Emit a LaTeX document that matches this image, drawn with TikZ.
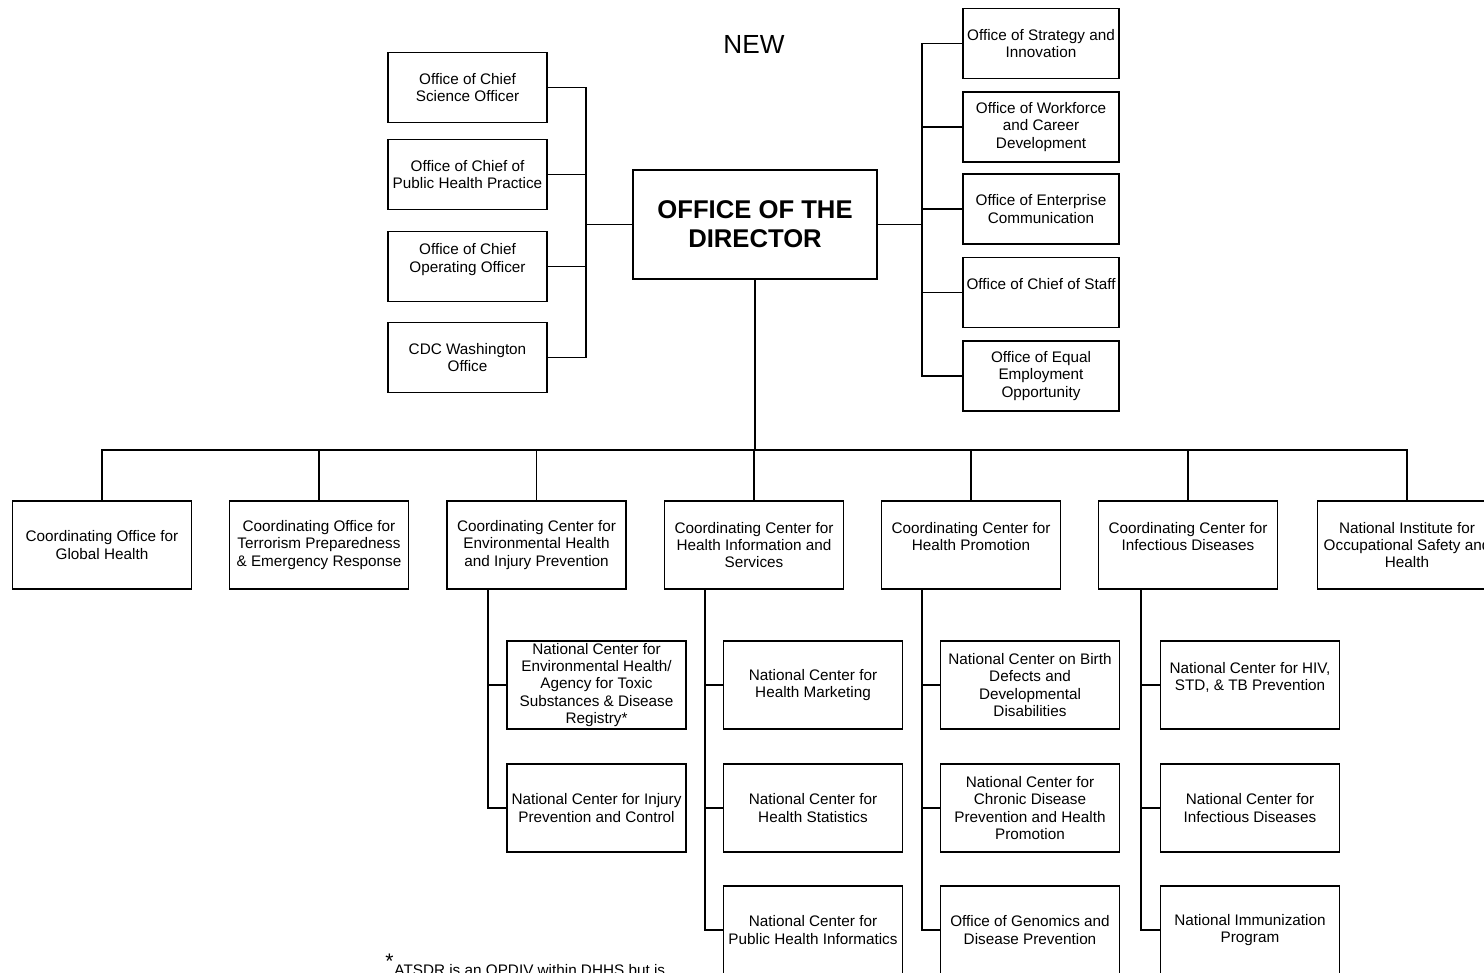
\documentclass[tikz,border=0pt]{standalone}
\usepackage{fontspec}
\setmainfont{Liberation Sans}
\begin{document}
\begin{tikzpicture}[x=0.02cm, y=-0.02cm,
    box/.style={draw, line width=1.05pt, align=center, inner sep=1pt,
      font=\fontsize{8.7}{9.8}\selectfont},
    leftbox/.style={box, minimum width=3.18cm, minimum height=1.40cm},
    rightbox/.style={box, minimum width=3.12cm, minimum height=1.40cm},
    unitbox/.style={box, minimum width=3.58cm, minimum height=1.76cm},
    link/.style={line width=1.05pt}]
  \useasboundingbox (0,0) rectangle (1484,973);

  % Title and director
  \node (new) at (754,44) {\fontsize{14.9}{17}\selectfont NEW};
  \node[draw, line width=1.05pt, minimum width=4.88cm, minimum height=2.18cm, align=center,
    font=\fontsize{14.6}{16.5}\selectfont\bfseries] (dir) at (755,224.5) {OFFICE OF THE\\DIRECTOR};

  % Left staff offices
  \node[leftbox] (cso) at (467.5,87.5) {Office of Chief\\Science Officer};
  \node[leftbox] (cphp) at (467.5,174.5) {Office of Chief of\\Public Health Practice};
  \node[leftbox] (coo) at (467.5,266.5) {Office of Chief\\Operating Officer\\~};
  \node[leftbox] (wash) at (467.5,357.5) {CDC Washington\\Office};

  % Right staff offices
  \node[rightbox] (osi) at (1041,43.5) {Office of Strategy and\\Innovation};
  \node[rightbox] (owcd) at (1041,127) {Office of Workforce\\and Career\\Development};
  \node[rightbox] (oec) at (1041,209) {Office of Enterprise\\Communication};
  \node[rightbox] (ocos) at (1041,292.5) {Office of Chief of Staff\\~};
  \node[rightbox] (oeeo) at (1041,376) {Office of Equal\\Employment\\Opportunity};

  % Coordinating offices and centers
  \node[unitbox] (glob) at (102,545) {Coordinating Office for\\Global Health};
  \node[unitbox] (terr) at (319,545) {Coordinating Office for\\Terrorism Preparedness\\\& Emergency Response};
  \node[unitbox] (env) at (536.5,545) {Coordinating Center for\\Environmental Health\\and Injury Prevention};
  \node[unitbox] (info) at (754,545) {Coordinating Center for\\Health Information and\\Services};
  \node[unitbox] (promo) at (971,545) {Coordinating Center for\\Health Promotion\\~};
  \node[unitbox] (infect) at (1188,545) {Coordinating Center for\\Infectious Diseases\\~};
  \node[unitbox] (niosh) at (1407,545) {National Institute for\\Occupational Safety and\\Health};

  % National centers
  \node[unitbox] (nceh) at (596.5,685) {National Center for\\Environmental Health/\\Agency for Toxic\\Substances \& Disease\\Registry*};
  \node[unitbox] (ncipc) at (596.5,808) {National Center for Injury\\Prevention and Control};
  \node[unitbox] (nchm) at (813,685) {National Center for\\Health Marketing};
  \node[unitbox] (nchs) at (813,808) {National Center for\\Health Statistics};
  \node[unitbox] (ncphi) at (813,930) {National Center for\\Public Health Informatics};
  \node[unitbox] (ncbddd) at (1030,685) {National Center on Birth\\Defects and\\Developmental\\Disabilities};
  \node[unitbox] (nccd) at (1030,808) {National Center for\\Chronic Disease\\Prevention and Health\\Promotion};
  \node[unitbox] (ogdp) at (1030,930) {Office of Genomics and\\Disease Prevention};
  \node[unitbox] (nchstp) at (1250,685) {National Center for HIV,\\STD, \& TB Prevention\\~};
  \node[unitbox] (ncid) at (1250,808) {National Center for\\Infectious Diseases};
  \node[unitbox] (nip) at (1250,930) {National Immunization\\Program};

  % Footnote
  \node[anchor=base west, inner sep=0pt, font=\fontsize{8.7}{9.8}\selectfont] (note) at (385,975)
    {\textsuperscript{\large *}ATSDR is an OPDIV within DHHS but is};

  % Connectors
  \coordinate (ljoin) at (586,224.5);
  \coordinate (rjoin) at (922,224.5);
  \coordinate (bus) at (755,450);
  \draw[link] (dir.west) -- (ljoin);
  \draw[link] (dir.east) -- (rjoin);
  \foreach \n in {cso,cphp,coo,wash}
    \draw[link] (\n.east) -| (ljoin);
  \foreach \n in {osi,owcd,oec,ocos,oeeo}
    \draw[link] (\n.west) -| (rjoin);
  \draw[link] (dir.south) -- (bus);
  \foreach \n in {glob,terr,env,info,promo,infect,niosh}
    \draw[link] (\n.north) |- (bus);

  \coordinate (envstem) at (488,589);
  \coordinate (infostem) at (705,589);
  \coordinate (promostem) at (922,589);
  \coordinate (infectstem) at (1141,589);
  \foreach \n in {nceh,ncipc}
    \draw[link] (envstem) |- (\n.west);
  \foreach \n in {nchm,nchs,ncphi}
    \draw[link] (infostem) |- (\n.west);
  \foreach \n in {ncbddd,nccd,ogdp}
    \draw[link] (promostem) |- (\n.west);
  \foreach \n in {nchstp,ncid,nip}
    \draw[link] (infectstem) |- (\n.west);
\end{tikzpicture}
\end{document}
